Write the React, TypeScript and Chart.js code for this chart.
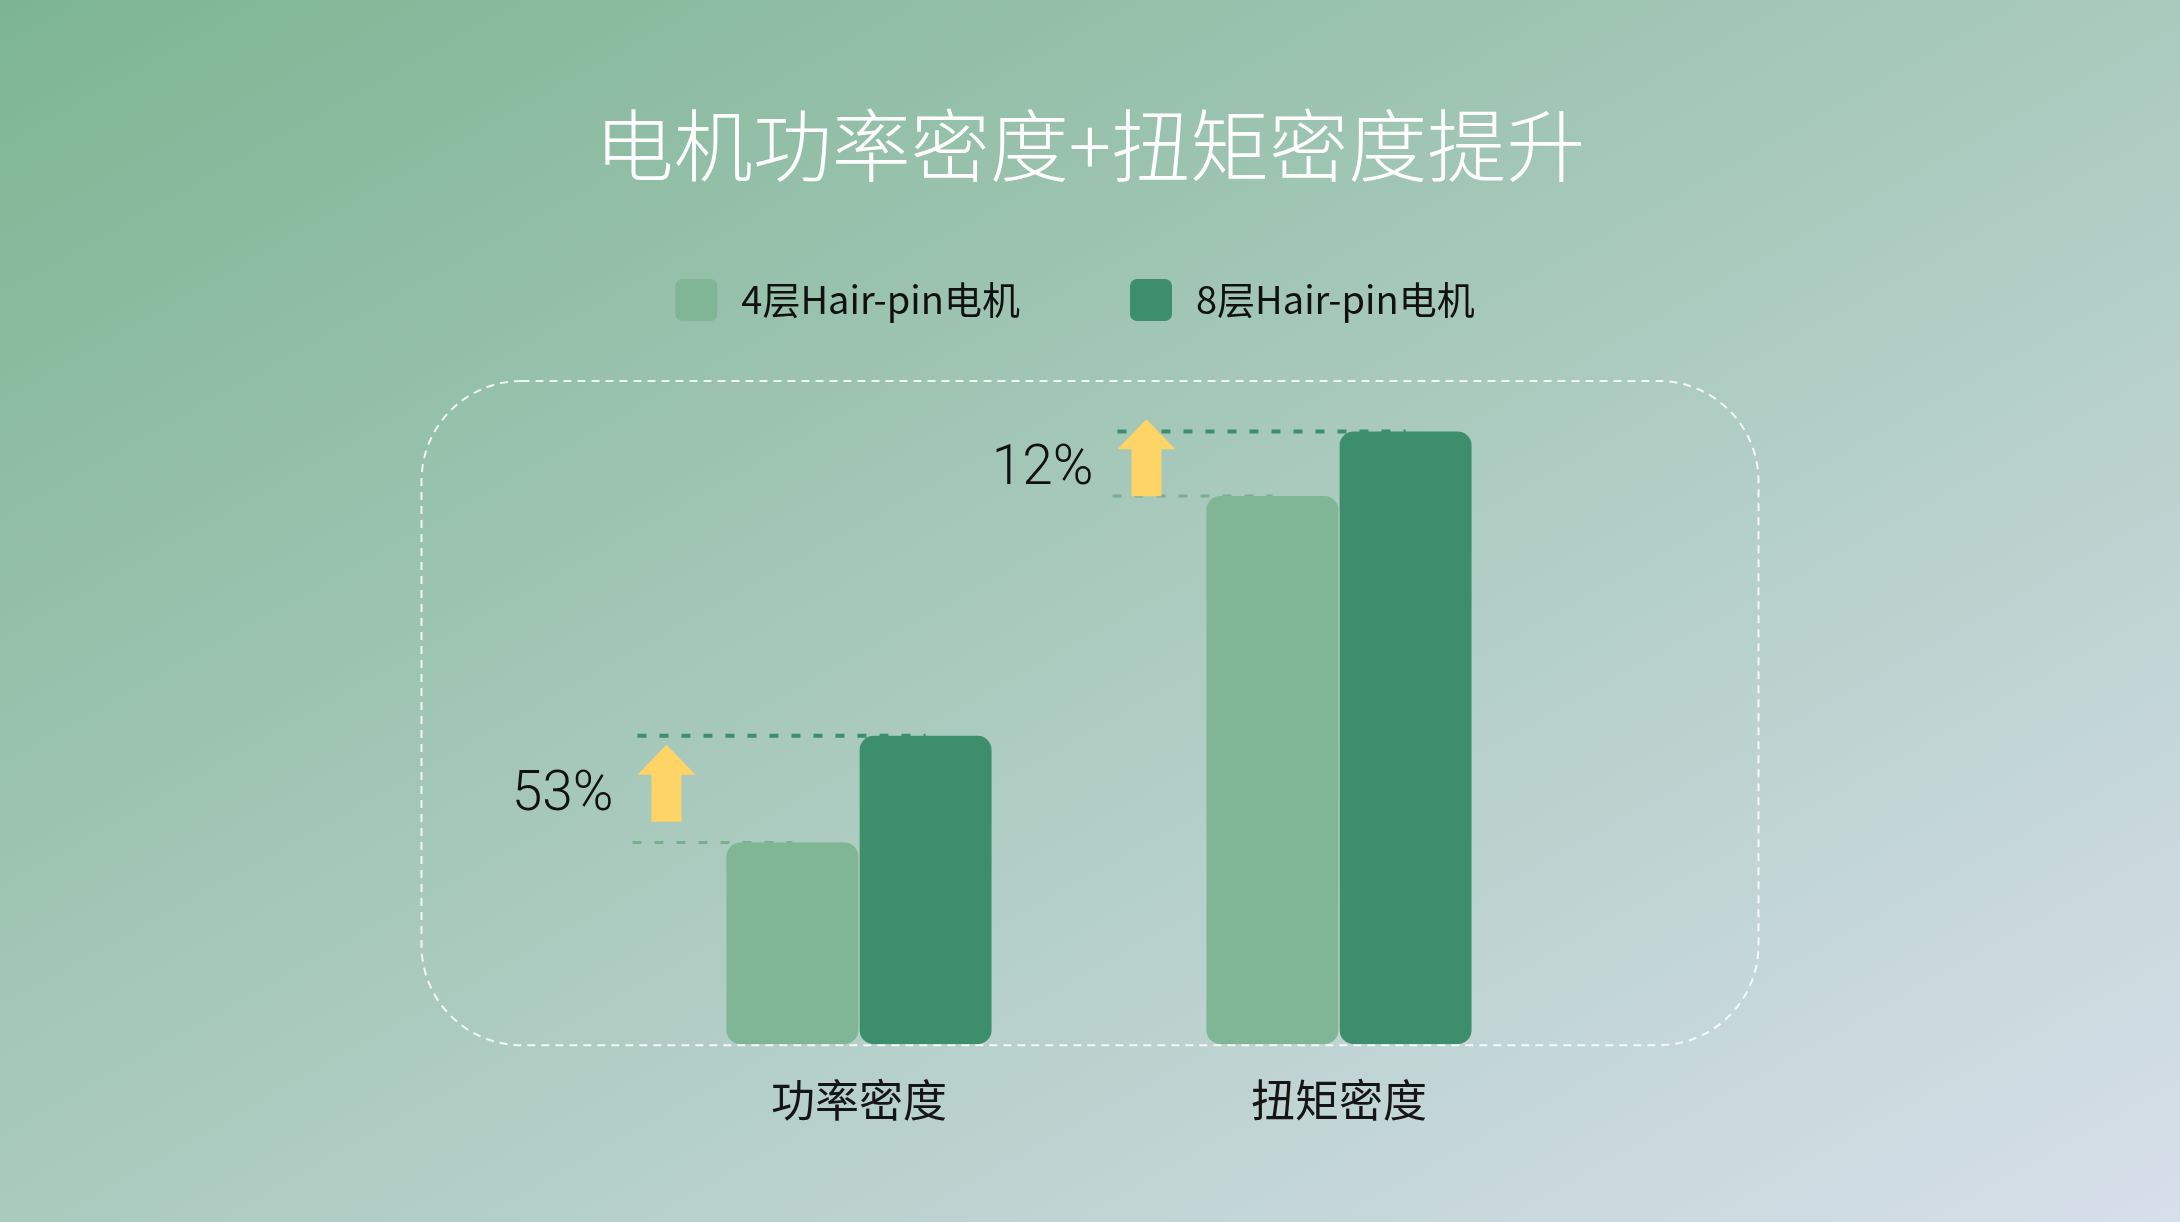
import { useRef, useEffect } from 'react';
import { Chart, registerables } from 'chart.js';
import type { Plugin } from 'chart.js';

Chart.register(...registerables);

const TITLE = '电机功率密度+扭矩密度提升';
const categories = ['功率密度', '扭矩密度'];
const seriesNames = ['4层Hair-pin电机', '8层Hair-pin电机'];
const layer4Values = [100, 272];
const layer8Values = [153, 304];

const LIGHT = '#80b596';
const DARK = '#3d8e6d';
const ARROW = '#ffd466';
const CJK = '"Noto Sans CJK SC", "Noto Sans", sans-serif';

function roundRect(ctx: CanvasRenderingContext2D, x: number, y: number, w: number, h: number, r: number) {
  ctx.beginPath();
  ctx.moveTo(x + r, y);
  ctx.lineTo(x + w - r, y);
  ctx.arcTo(x + w, y, x + w, y + r, r);
  ctx.lineTo(x + w, y + h - r);
  ctx.arcTo(x + w, y + h, x + w - r, y + h, r);
  ctx.lineTo(x + r, y + h);
  ctx.arcTo(x, y + h, x, y + h - r, r);
  ctx.lineTo(x, y + r);
  ctx.arcTo(x, y, x + r, y, r);
  ctx.closePath();
}

function dashLine(ctx: CanvasRenderingContext2D, x1: number, x2: number, y: number, color: string, lw: number) {
  ctx.save();
  ctx.strokeStyle = color;
  ctx.lineWidth = lw;
  ctx.setLineDash([9, 13]);
  ctx.beginPath();
  ctx.moveTo(x1, y);
  ctx.lineTo(x2, y);
  ctx.stroke();
  ctx.restore();
}

function upArrow(ctx: CanvasRenderingContext2D, cx: number, top: number, h: number) {
  const headW = 58, shaftW = 30, headH = 30;
  ctx.save();
  ctx.fillStyle = ARROW;
  ctx.beginPath();
  ctx.moveTo(cx, top);
  ctx.lineTo(cx + headW / 2, top + headH);
  ctx.lineTo(cx + shaftW / 2, top + headH);
  ctx.lineTo(cx + shaftW / 2, top + h);
  ctx.lineTo(cx - shaftW / 2, top + h);
  ctx.lineTo(cx - shaftW / 2, top + headH);
  ctx.lineTo(cx - headW / 2, top + headH);
  ctx.closePath();
  ctx.fill();
  ctx.restore();
}

const decorPlugin: Plugin<'bar'> = {
  id: 'decor',
  beforeDatasetsDraw(chart) {
    const { ctx, chartArea, width } = chart;
    // dashed rounded frame
    ctx.save();
    ctx.strokeStyle = 'rgba(255,255,255,0.85)';
    ctx.lineWidth = 2;
    ctx.setLineDash([8, 6]);
    const bw = 1337;
    roundRect(ctx, width / 2 - bw / 2, chartArea.top + 2, bw, chartArea.bottom - chartArea.top - 1, 100);
    ctx.stroke();
    ctx.restore();

    // reference lines for the increase
    const light = chart.getDatasetMeta(0).data as any[];
    const dark = chart.getDatasetMeta(1).data as any[];
    categories.forEach((_, i) => {
      const l = light[i], d = dark[i];
      const lightLeft = l.x - l.width / 2;
      const arrowX = lightLeft - 60;
      dashLine(ctx, arrowX - 29, d.x, d.y, DARK, 4);
      dashLine(ctx, arrowX - 34, l.x, l.y, 'rgba(110,170,135,0.85)', 3);
    });
  },
  afterDatasetsDraw(chart) {
    const { ctx } = chart;
    const light = chart.getDatasetMeta(0).data as any[];
    const dark = chart.getDatasetMeta(1).data as any[];
    categories.forEach((_, i) => {
      const l = light[i], d = dark[i];
      const lightLeft = l.x - l.width / 2;
      const arrowX = lightLeft - 60;
      const gapMid = (l.y + d.y) / 2;
      const h = 77;
      upArrow(ctx, arrowX, gapMid - 6 - h / 2, h);
      const pct = Math.round((layer8Values[i] / layer4Values[i] - 1) * 100);
      ctx.save();
      ctx.fillStyle = '#111111';
      ctx.font = '300 55px Roboto, "Noto Sans", sans-serif';
      ctx.textAlign = 'right';
      ctx.textBaseline = 'middle';
      ctx.fillText(pct + '%', arrowX - 29 - 24, gapMid + 7);
      ctx.restore();
    });
  },
  afterDraw(chart) {
    const { ctx, width } = chart;
    ctx.save();
    // title
    ctx.fillStyle = '#ffffff';
    ctx.font = `300 79px ${CJK}`;
    ctx.textAlign = 'center';
    ctx.textBaseline = 'middle';
    ctx.fillText(TITLE, width / 2, 146);

    // legend
    const box = 42, textGap = 24, itemGap = 110, legendY = 300;
    ctx.font = `400 38px ${CJK}`;
    const widths = seriesNames.map(n => box + textGap + ctx.measureText(n).width);
    const total = widths.reduce((a, b) => a + b, 0) + itemGap * (seriesNames.length - 1);
    let x = width / 2 - 15 - total / 2;
    chart.data.datasets.forEach((ds, i) => {
      ctx.fillStyle = ds.backgroundColor as string;
      roundRect(ctx, x, legendY - box / 2, box, box, 7);
      ctx.fill();
      ctx.fillStyle = '#111111';
      ctx.textAlign = 'left';
      ctx.fillText(ds.label as string, x + box + textGap, legendY);
      x += widths[i] + itemGap;
    });
    ctx.restore();
  },
};

export default function App() {
  const canvasRef = useRef<HTMLCanvasElement>(null);
  const chartRef = useRef<Chart | null>(null);

  useEffect(() => {
    if (!canvasRef.current) return;
    if (chartRef.current) chartRef.current.destroy();

    chartRef.current = new Chart(canvasRef.current, {
      type: 'bar',
      data: {
        labels: categories,
        datasets: [
          {
            label: seriesNames[0],
            data: layer4Values,
            backgroundColor: LIGHT,
            borderRadius: 14,
            borderSkipped: false,
            categoryPercentage: 0.555,
            barPercentage: 0.99,
          },
          {
            label: seriesNames[1],
            data: layer8Values,
            backgroundColor: DARK,
            borderRadius: 14,
            borderSkipped: false,
            categoryPercentage: 0.555,
            barPercentage: 0.99,
          },
        ],
      },
      options: {
        responsive: true,
        maintainAspectRatio: false,
        animation: false,
        layout: { padding: { left: 619, right: 601, top: 379, bottom: 65 } },
        plugins: {
          legend: { display: false },
          title: { display: false },
          tooltip: { enabled: false },
        },
        scales: {
          x: {
            grid: { display: false, drawTicks: false },
            border: { display: false },
            ticks: {
              color: '#151515',
              padding: 30,
              font: { family: CJK, size: 44 },
            },
          },
          y: {
            display: false,
            min: 0,
            max: 330,
          },
        },
      },
      plugins: [decorPlugin],
    });

    return () => {
      if (chartRef.current) { chartRef.current.destroy(); chartRef.current = null; }
    };
  }, []);

  return (
    <div
      style={{
        position: 'fixed',
        inset: 0,
        background: 'linear-gradient(to bottom right, #7db592, #d7dfea)',
      }}
    >
      <canvas ref={canvasRef} />
    </div>
  );
}
